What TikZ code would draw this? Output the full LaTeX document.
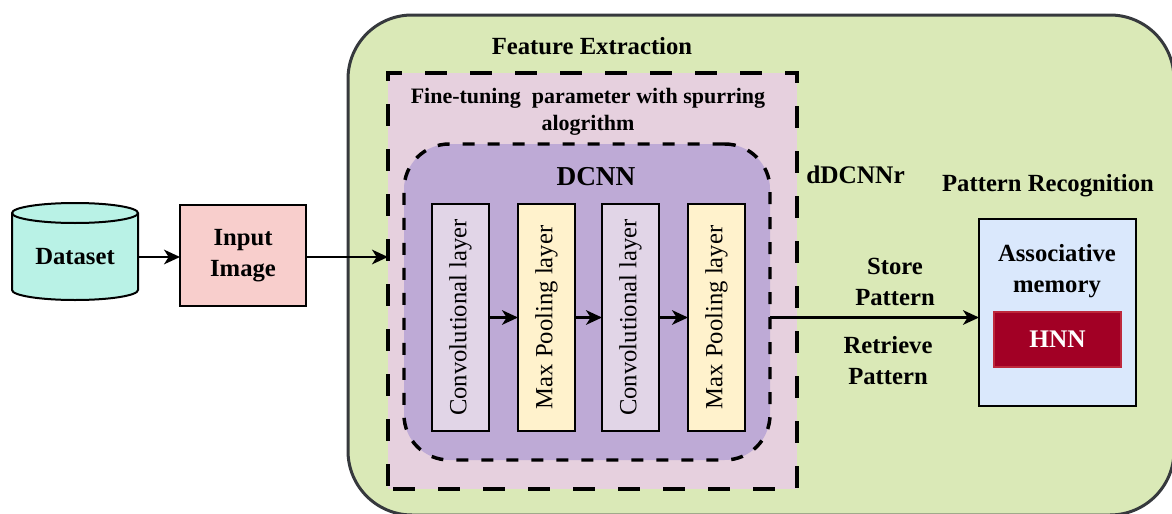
\documentclass[tikz,border=0pt]{standalone}
\usepackage{fontspec}
\setmainfont{Liberation Serif}
\usetikzlibrary{arrows.meta}
\definecolor{greenbg}{RGB}{218,233,183}
\definecolor{greenline}{RGB}{54,57,61}
\definecolor{pinkbg}{RGB}{230,208,222}
\definecolor{purplebg}{RGB}{190,170,214}
\definecolor{lavbox}{RGB}{225,213,231}
\definecolor{yelbox}{RGB}{255,242,204}
\definecolor{cylfill}{RGB}{185,242,230}
\definecolor{inpfill}{RGB}{248,206,204}
\definecolor{assocfill}{RGB}{218,232,252}
\definecolor{hnnfill}{RGB}{162,0,37}
\definecolor{hnnline}{RGB}{190,40,60}
\tikzset{
  lbl/.style={font=\bfseries\fontsize{18.5}{23.3}\selectfont, align=center, inner sep=0pt},
  layerbox/.style={draw=black, line width=1.5pt, rotate=90, minimum width=170.25pt, minimum height=42.75pt, inner sep=0pt, outer sep=0pt, font=\fontsize{18.5}{22}\selectfont},
  arr/.style={line width=1.6pt, -{Stealth[length=12pt,width=11pt,inset=3.5pt]}},
}
\begin{document}
\begin{tikzpicture}[x=0.75pt,y=-0.75pt]
\useasboundingbox (0,0) rectangle (1172,514);
% green container
\node[draw=greenline, fill=greenbg, line width=2.25pt, rounded corners=48pt, minimum width=619.5pt, minimum height=375pt, inner sep=0pt, outer sep=0pt] (fe) at (761,265) {};
\node[lbl] (fetitle) at (592,46) {Feature Extraction};
% pink dashed
\node[draw=black, fill=pinkbg, line width=2.4pt, dash pattern=on 16.5pt off 17.25pt, dash phase=-4pt, minimum width=306.75pt, minimum height=312pt, inner sep=0pt, outer sep=0pt] (ft) at (592.5,281) {};
\node[lbl, font=\bfseries\fontsize{16.5}{20.3}\selectfont] (fttitle) at (588,111.5) {Fine-tuning\ \ parameter with spurring\\alogrithm};
% purple DCNN
\node[draw=black, fill=purplebg, line width=2.6pt, dash pattern=on 9pt off 9.75pt, rounded corners=34pt, minimum width=274.5pt, minimum height=237pt, inner sep=0pt, outer sep=0pt] (dcnn) at (587,302) {};
\node[lbl, font=\bfseries\fontsize{20.5}{24}\selectfont] (dcnntitle) at (596,177) {DCNN};
% layers
\node[layerbox, fill=lavbox] (b1) at (460.5,317.5) {Convolutional layer};
\node[layerbox, fill=yelbox] (b2) at (546.5,317.5) {Max Pooling layer};
\node[layerbox, fill=lavbox] (b3) at (630.5,317.5) {Convolutional layer};
\node[layerbox, fill=yelbox] (b4) at (716.5,317.5) {Max Pooling layer};
\draw[arr] (b1) -- (b2);
\draw[arr] (b2) -- (b3);
\draw[arr] (b3) -- (b4);
% dataset cylinder
\filldraw[fill=cylfill, draw=black, line width=1.5pt] (12,213) -- (12,290) arc[start angle=180, end angle=360, x radius=47.25pt, y radius=7.5pt] -- (138,213) arc[start angle=0, end angle=180, x radius=47.25pt, y radius=7.5pt] -- cycle;
\draw[line width=1.5pt] (12,213) arc[start angle=180, end angle=360, x radius=47.25pt, y radius=7.5pt];
\node[lbl, minimum width=94.5pt, minimum height=72.75pt, outer sep=0pt] (ds) at (75,257) {Dataset};
% input image
\node[lbl, draw=black, fill=inpfill, line width=1.5pt, minimum width=94.5pt, minimum height=75.75pt, outer sep=0pt] (inp) at (243,255.5) {Input\\Image};
\draw[arr] (ds.east) -- (ds.east -| inp.west);
\draw[arr] (inp.east |- ds.east) -- (ds.east -| ft.west);
% labels
\node[lbl, anchor=west, font=\bfseries\fontsize{19}{23}\selectfont] (ddcnnr) at (806,175) {dDCNNr};
\node[lbl] (prtitle) at (1048,186) {Pattern Recognition};
% associative memory
\node[draw=black, fill=assocfill, line width=1.8pt, minimum width=117.75pt, minimum height=140.25pt, inner sep=0pt, outer sep=0pt] (assoc) at (1057.5,312.5) {};
\node[lbl] (assoctxt) at (1057,271) {Associative\\memory};
\node[lbl, draw=hnnline, fill=hnnfill, text=white, line width=1pt, minimum width=95.25pt, minimum height=41.25pt, outer sep=0pt, font=\bfseries\fontsize{19}{23}\selectfont] (hnn) at (1057.5,339.5) {HNN};
% output connector
\draw[arr] (dcnn.east |- b4.center) -- (assoc.west |- b4.center);
\node[lbl] (store) at (895,281.5) {Store\\Pattern};
\node[lbl] (retr) at (888,360.5) {Retrieve\\Pattern};
\end{tikzpicture}
\end{document}
